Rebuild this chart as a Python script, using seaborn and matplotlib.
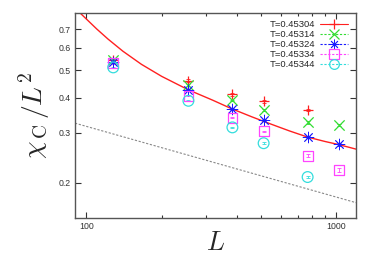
import numpy as np
import pandas as pd
import matplotlib
matplotlib.use("Agg")
import matplotlib.pyplot as plt
import seaborn as sns
from matplotlib.lines import Line2D
from matplotlib.ticker import FixedLocator, NullFormatter, FixedFormatter

# ---- data ----
L_values = [128, 256, 384, 512, 768, 1024]
T_labels = ["T=0.45304", "T=0.45314", "T=0.45324", "T=0.45334", "T=0.45344"]
chi_45304 = [0.545, 0.459, 0.411, 0.388, 0.362, np.nan]
chi_45314 = [0.543, 0.444, 0.391, 0.362, 0.327, 0.320]
chi_45324 = [0.535, 0.426, 0.365, 0.3345, 0.290, 0.2735]
chi_45334 = [0.530, 0.406, 0.340, 0.304, 0.249, 0.222]
chi_45344 = [0.512, 0.390, 0.314, 0.276, 0.2095, np.nan]
err_45304 = [0.006, 0.005, 0.005, 0.005, 0.004, np.nan]
err_45314 = [0.004, 0.004, 0.003, 0.003, 0.003, 0.003]
err_45324 = [0.003, 0.003, 0.003, 0.003, 0.003, 0.003]
err_45334 = [0.002, 0.002, 0.002, 0.002, 0.003, 0.004]
err_45344 = [0.002, 0.002, 0.002, 0.002, 0.002, np.nan]

# red fit curve
fit_L = [94, 110, 122, 140, 166, 200, 255, 320, 380, 460, 540, 650, 769, 900, 1021, 1200]
fit_y = [0.800, 0.700, 0.645, 0.584, 0.525, 0.476, 0.427, 0.392, 0.366, 0.342,
         0.324, 0.305, 0.290, 0.280, 0.273, 0.263]
# grey dotted reference line
ref_L = [90, 1200]
ref_y = [0.325, 0.170]

series = [chi_45304, chi_45314, chi_45324, chi_45334, chi_45344]
errors = [err_45304, err_45314, err_45324, err_45334, err_45344]
rows = []
for lab, ys, es in zip(T_labels, series, errors):
    for L, y, e in zip(L_values, ys, es):
        rows.append({"T": lab, "L": L, "chi": y, "err": e})
df = pd.DataFrame(rows).dropna()

colors = ["#ff2020", "#33dd33", "#1a1aff", "#ff44ff", "#33dddd"]
markers = ["+", "x", (8, 2, 0), "s", "o"]
open_m = [False, False, False, True, True]
sizes = [60, 55, 60, 50, 60]
lws = [0.9, 0.9, 0.6, 0.9, 0.9]

sns.set_style("ticks")
plt.rcParams["font.family"] = ["Liberation Sans", "DejaVu Sans"]
plt.rcParams["mathtext.fontset"] = "cm"

fig = plt.figure(figsize=(3.74, 2.63), dpi=100)
ax = fig.add_axes([0.2005, 0.171, 0.7515, 0.781])

sns.lineplot(x=fit_L, y=fit_y, color="#ff2020", lw=1.0, ax=ax, sort=False)
sns.lineplot(x=ref_L, y=ref_y, color="#888888", lw=0.8, ax=ax, sort=False)
ax.lines[-1].set_linestyle((0, (2, 1.5)))

for lab, c, m, op, s, lw in zip(T_labels, colors, markers, open_m, sizes, lws):
    sub = df[df["T"] == lab]
    ax.errorbar(sub["L"], sub["chi"], yerr=sub["err"], fmt="none", ecolor=c,
                elinewidth=0.6, capsize=1.5, capthick=0.6, zorder=3)
    if op:
        sns.scatterplot(data=sub, x="L", y="chi", marker=m, s=s, facecolor="none",
                        edgecolor=c, linewidth=lw, ax=ax, legend=False, zorder=4)
    else:
        sns.scatterplot(data=sub, x="L", y="chi", marker=m, s=s, color=c,
                        linewidth=lw, ax=ax, legend=False, zorder=4)

ax.set_xscale("log")
ax.set_yscale("log")
ax.set_xlim(90, 1200)
ax.set_ylim(0.15, 0.8)

yt = [0.2, 0.3, 0.4, 0.5, 0.6, 0.7]
ax.yaxis.set_major_locator(FixedLocator(yt))
ax.yaxis.set_major_formatter(FixedFormatter(["0.2", "0.3", "0.4", "0.5", "0.6", "0.7"]))
ax.yaxis.set_minor_locator(FixedLocator([]))
ax.xaxis.set_major_locator(FixedLocator([100, 1000]))
ax.xaxis.set_major_formatter(FixedFormatter(["100", "1000"]))
ax.xaxis.set_minor_locator(FixedLocator([200, 300, 400, 500, 600, 700, 800, 900]))
ax.xaxis.set_minor_formatter(NullFormatter())

ax.tick_params(which="both", direction="in", top=True, right=True,
               labelsize=6.3, colors="#333333", width=0.8)
ax.tick_params(which="major", length=4, pad=3)
ax.tick_params(which="minor", length=2.5)
for sp in ax.spines.values():
    sp.set_visible(True)
    sp.set_color("#555555")
    sp.set_linewidth(1.0)

ax.set_xlabel(r"$L$", fontsize=19, labelpad=0)
ax.set_ylabel(r"$\chi_{\,\mathrm{C}}\,/L^{2}$", fontsize=20, labelpad=5)

handles = []
for i, (lab, c, m, op, lw) in enumerate(zip(T_labels, colors, markers, open_m, lws)):
    ls = "-" if i == 0 else (0, (2, 1.5))
    handles.append(Line2D([0], [0], color=c, lw=0.8, linestyle=ls, marker=m,
                          markersize=7, markerfacecolor="none", markeredgecolor=c,
                          markeredgewidth=lw))
ax.legend(handles, T_labels, loc="upper right", frameon=False, markerfirst=False,
          fontsize=6.8, handlelength=3.0, labelspacing=0.1, handletextpad=0.5,
          borderaxespad=0.4)

fig.savefig("out.png", dpi=100)
